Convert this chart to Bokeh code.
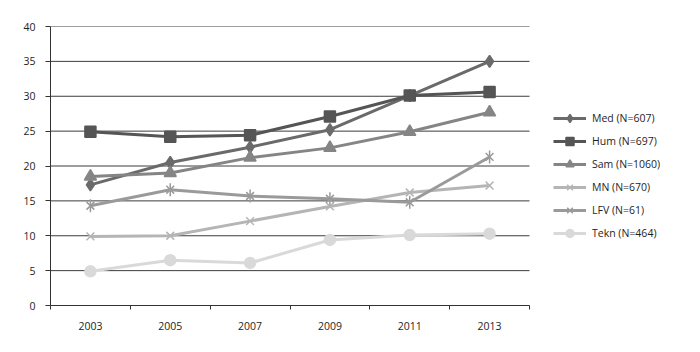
import math
from bokeh.plotting import figure
from bokeh.models import Legend, LegendItem, FixedTicker, Range1d
from bokeh.embed import file_html
from bokeh.resources import INLINE

years = [2003, 2005, 2007, 2009, 2011, 2013]
med = [17.3, 20.5, 22.7, 25.2, 30.1, 35.0]
hum = [24.9, 24.2, 24.4, 27.1, 30.1, 30.6]
sam = [18.5, 19.0, 21.2, 22.6, 24.9, 27.7]
mn = [9.9, 10.0, 12.1, 14.2, 16.2, 17.2]
lfv = [14.3, 16.6, 15.7, 15.3, 14.8, 21.3]
tekn = [4.9, 6.5, 6.1, 9.4, 10.1, 10.3]
labels = ["Med (N=607)", "Hum (N=697)", "Sam (N=1060)", "MN (N=670)", "LFV (N=61)", "Tekn (N=464)"]
y_ticks = [0, 5, 10, 15, 20, 25, 30, 35, 40]

FONT = "Open Sans"

# plot area spans 2002..2014 (479 px); the frame is extended to the right to host the legend
X0, X1 = 2002, 2014
px_per_year = 479 / (X1 - X0)
frame_w = 700 - 50 - 10
x_end = X0 + frame_w / px_per_year

p = figure(width=700, height=352, output_backend="svg", toolbar_location=None,
           x_range=Range1d(X0, x_end), y_range=Range1d(0, 40),
           min_border_left=50, min_border_right=10, min_border_top=26, min_border_bottom=47)
p.outline_line_color = None
p.xgrid.grid_line_color = None
p.ygrid.grid_line_color = None

# horizontal grid lines limited to the plot area
p.segment(x0=[X0] * len(y_ticks), x1=[X1] * len(y_ticks), y0=y_ticks, y1=y_ticks,
          line_color="#3c3c3c", line_width=1)

p.xaxis.ticker = FixedTicker(ticks=years, minor_ticks=list(range(X0, X1 + 1, 2)))
p.xaxis.bounds = (X0, X1)
p.xaxis.major_tick_out = 0
p.xaxis.major_tick_in = 0
p.xaxis.minor_tick_out = 4
p.xaxis.minor_tick_in = 0
p.xaxis.minor_tick_line_color = "#333333"
p.xaxis.axis_line_color = "#333333"
p.xaxis.major_label_standoff = 12

p.yaxis.ticker = FixedTicker(ticks=y_ticks, minor_ticks=[])
p.yaxis.major_tick_out = 5
p.yaxis.major_tick_in = 0
p.yaxis.major_tick_line_color = "#333333"
p.yaxis.axis_line_color = "#333333"
p.yaxis.major_label_standoff = 10

for ax in (p.xaxis, p.yaxis):
    ax.major_label_text_font = FONT
    ax.major_label_text_font_size = "10.5px"
    ax.major_label_text_color = "#1e1e1e"

series = [
    (med, "#6a6a6a", "diamond", 12),
    (hum, "#555555", "square", 11),
    (sam, "#858585", "triangle", 12),
    (mn, "#b5b5b5", "x", 11),
    (lfv, "#9a9a9a", "x", 11),
    (tekn, "#d9d9d9", "circle", 11),
]

items = []
for (vals, col, mk, sz), lab in zip(series, labels):
    r1 = p.line(years, vals, line_color=col, line_width=3)
    r2 = p.scatter(years, vals, marker=mk, size=sz, fill_color=col, line_color=col, line_width=1.5)
    rends = [r1, r2]
    if lab.startswith("LFV"):
        r3 = p.scatter(years, vals, marker="dash", angle=math.pi / 2, size=sz + 2,
                       line_color=col, line_width=1.5)
        rends.append(r3)
    items.append(LegendItem(label=lab, renderers=rends))

legend = Legend(items=items, location=(503, 62), orientation="vertical")
legend.border_line_color = None
legend.background_fill_alpha = 0
legend.label_text_font = FONT
legend.label_text_font_size = "10.5px"
legend.label_text_color = "#1e1e1e"
legend.glyph_width = 33
legend.glyph_height = 20
legend.label_height = 20
legend.spacing = 3
legend.label_standoff = 6
legend.padding = 10
legend.margin = 0
p.add_layout(legend)

open("out.html", "w").write(file_html(p, INLINE))
